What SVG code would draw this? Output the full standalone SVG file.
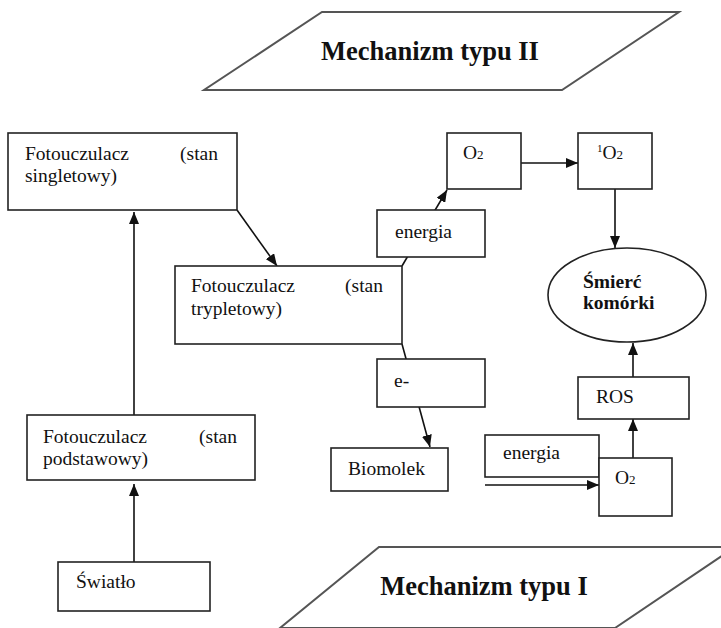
<svg xmlns="http://www.w3.org/2000/svg" width="721" height="628" viewBox="0 0 721 628">
<defs>
<style>
.b{fill:#fff;stroke:#222;stroke-width:1.6}
.p{fill:#fff;stroke:#555;stroke-width:2}
.t{font-family:"Liberation Serif","Times New Roman",serif;font-size:19.5px;fill:#111}
.bd{font-weight:bold}
.h{font-family:"Liberation Serif","Times New Roman",serif;font-size:26.5px;font-weight:bold;fill:#111}
.c{stroke:#111;stroke-width:1.6;fill:none}
.ca{stroke:#111;stroke-width:1.6;fill:none;marker-end:url(#ah)}
</style>
<marker id="ah" viewBox="0 0 12 10" refX="12" refY="5" markerWidth="12" markerHeight="10" markerUnits="userSpaceOnUse" orient="auto">
<path d="M0,0 L12,5 L0,10 Z" fill="#111"/>
</marker>
</defs>
<rect width="721" height="628" fill="#fff"/>

<g id="connectors">
<line class="ca" x1="134" y1="562" x2="134" y2="484"/>
<line class="ca" x1="134" y1="415" x2="134" y2="212"/>
<line class="ca" x1="237" y1="210" x2="277" y2="266"/>
<line class="ca" x1="402" y1="266" x2="447" y2="190"/>
<line class="ca" x1="521" y1="163" x2="578" y2="163"/>
<line class="ca" x1="615" y1="189" x2="615" y2="248"/>
<line class="ca" x1="402" y1="344" x2="430" y2="447"/>
<line class="ca" x1="633" y1="458" x2="633" y2="419"/>
<line class="ca" x1="633" y1="377" x2="633" y2="343"/>
<line class="ca" x1="485" y1="485" x2="599" y2="485"/>
</g>

<g id="mech2">
<polygon class="p" points="322,12 679,12 562,90 204,90"/>
<text class="h" x="430" y="60" text-anchor="middle">Mechanizm typu II</text>
</g>

<g id="mech1">
<polygon class="p" points="379,547 735,547 615,628 280,628"/>
<text class="h" x="484" y="595" text-anchor="middle">Mechanizm typu I</text>
</g>

<g id="singlet">
<rect class="b" x="8" y="133" width="229" height="77"/>
<text class="t" x="25" y="160">Fotouczulacz</text>
<text class="t" x="218" y="160" text-anchor="end">(stan</text>
<text class="t" x="25" y="182">singletowy)</text>
</g>

<g id="tryplet">
<rect class="b" x="175" y="266" width="227" height="78"/>
<text class="t" x="191" y="292">Fotouczulacz</text>
<text class="t" x="383" y="292" text-anchor="end">(stan</text>
<text class="t" x="191" y="315">trypletowy)</text>
</g>

<g id="podstawowy">
<rect class="b" x="27" y="415" width="228" height="65"/>
<text class="t" x="43" y="443">Fotouczulacz</text>
<text class="t" x="237" y="443" text-anchor="end">(stan</text>
<text class="t" x="43" y="465">podstawowy)</text>
</g>

<g id="swiatlo">
<rect class="b" x="58" y="562" width="152" height="49"/>
<text class="t" x="76" y="588">Światło</text>
</g>

<g id="energia1">
<rect class="b" x="377" y="210" width="108" height="47"/>
<text class="t" x="395" y="238">energia</text>
</g>

<g id="o2top">
<rect class="b" x="447" y="133" width="74" height="56"/>
<text class="t" x="463" y="159">O<tspan font-size="13">2</tspan></text>
</g>

<g id="singletO2">
<rect class="b" x="578" y="133" width="74" height="56"/>
<text class="t" x="597" y="159"><tspan font-size="11" dy="-7">1</tspan><tspan dy="7">O</tspan><tspan font-size="13">2</tspan></text>
</g>

<g id="smierc">
<ellipse class="b" cx="627" cy="295" rx="79" ry="47"/>
<text class="t bd" x="583" y="288">Śmierć</text>
<text class="t bd" x="583" y="309">komórki</text>
</g>

<g id="e">
<rect class="b" x="377" y="359" width="108" height="48"/>
<text class="t" x="394" y="387">e-</text>
</g>

<g id="biomolek">
<rect class="b" x="331" y="448" width="117" height="43"/>
<text class="t" x="348" y="475">Biomolek</text>
</g>

<g id="ros">
<rect class="b" x="578" y="377" width="111" height="42"/>
<text class="t" x="596" y="403">ROS</text>
</g>

<g id="energia2">
<rect class="b" x="485" y="435" width="114" height="42"/>
<text class="t" x="503" y="459">energia</text>
</g>

<g id="o2bottom">
<rect class="b" x="599" y="458" width="73" height="58"/>
<text class="t" x="615" y="484">O<tspan font-size="13">2</tspan></text>
</g>
</svg>
